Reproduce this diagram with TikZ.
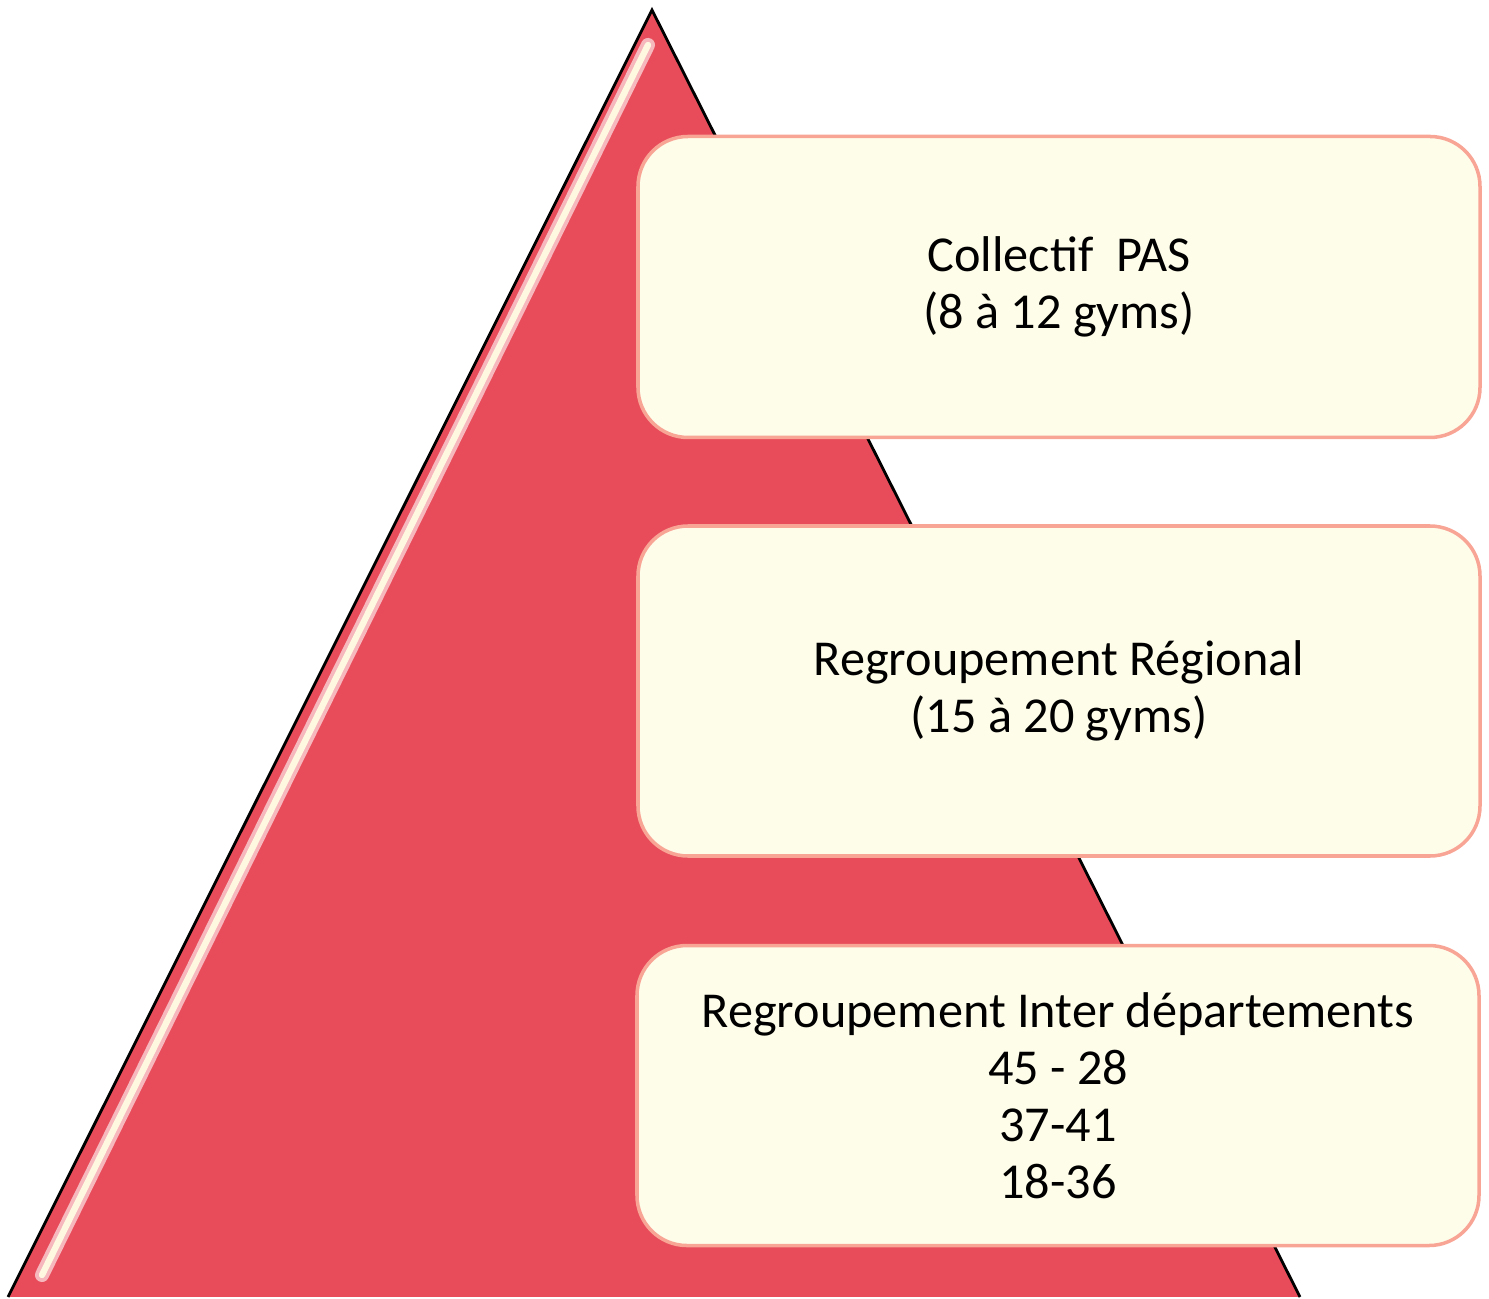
\documentclass[tikz,border=0pt]{standalone}
\usepackage{fontspec}
\setmainfont{Carlito}
\usepackage{tikz}
\usetikzlibrary{positioning}
\usepackage{xcolor}
\definecolor{pyrred}{RGB}{232,76,90}
\definecolor{boxfill}{RGB}{254,253,234}
\definecolor{boxline}{RGB}{248,165,150}
\definecolor{shine}{RGB}{255,248,225}

\begin{document}
\begin{tikzpicture}[
    node distance=0.85cm,
    block/.style={rectangle, rounded corners=0.5cm, draw=boxline, line width=1pt, fill=boxfill, minimum width=8.42cm, align=center, font=\fontsize{14.3}{16.2}\selectfont}
]
\useasboundingbox (0,0) rectangle (14.89,12.99);

% Pyramid
\fill[pyrred] (6.52,12.89) -- (0.08,0.02) -- (13.00,0.02) -- cycle;
\draw[line width=0.8pt] (0.08,0.02) -- (6.52,12.89) -- (13.00,0.02);
\draw[pyrred!40, line width=4pt, line cap=round] (6.48,12.54) -- (0.42,0.24);
\draw[shine, line width=1.8pt, line cap=round] (6.48,12.54) -- (0.42,0.24);

% Levels
\node[block, minimum height=3.01cm] (pas) at (10.59,10.12) {Collectif~~PAS \\ (8 à 12 gyms)};
\node[block, minimum height=3.30cm, below=of pas] (reg) {Regroupement Régional \\ (15 à 20 gyms)};
\node[block, minimum height=3.00cm, below=0.86cm of reg, xshift=-0.01cm] (inter) {Regroupement Inter départements \\ 45 - 28 \\ 37-41 \\ 18-36};

\end{tikzpicture}
\end{document}
